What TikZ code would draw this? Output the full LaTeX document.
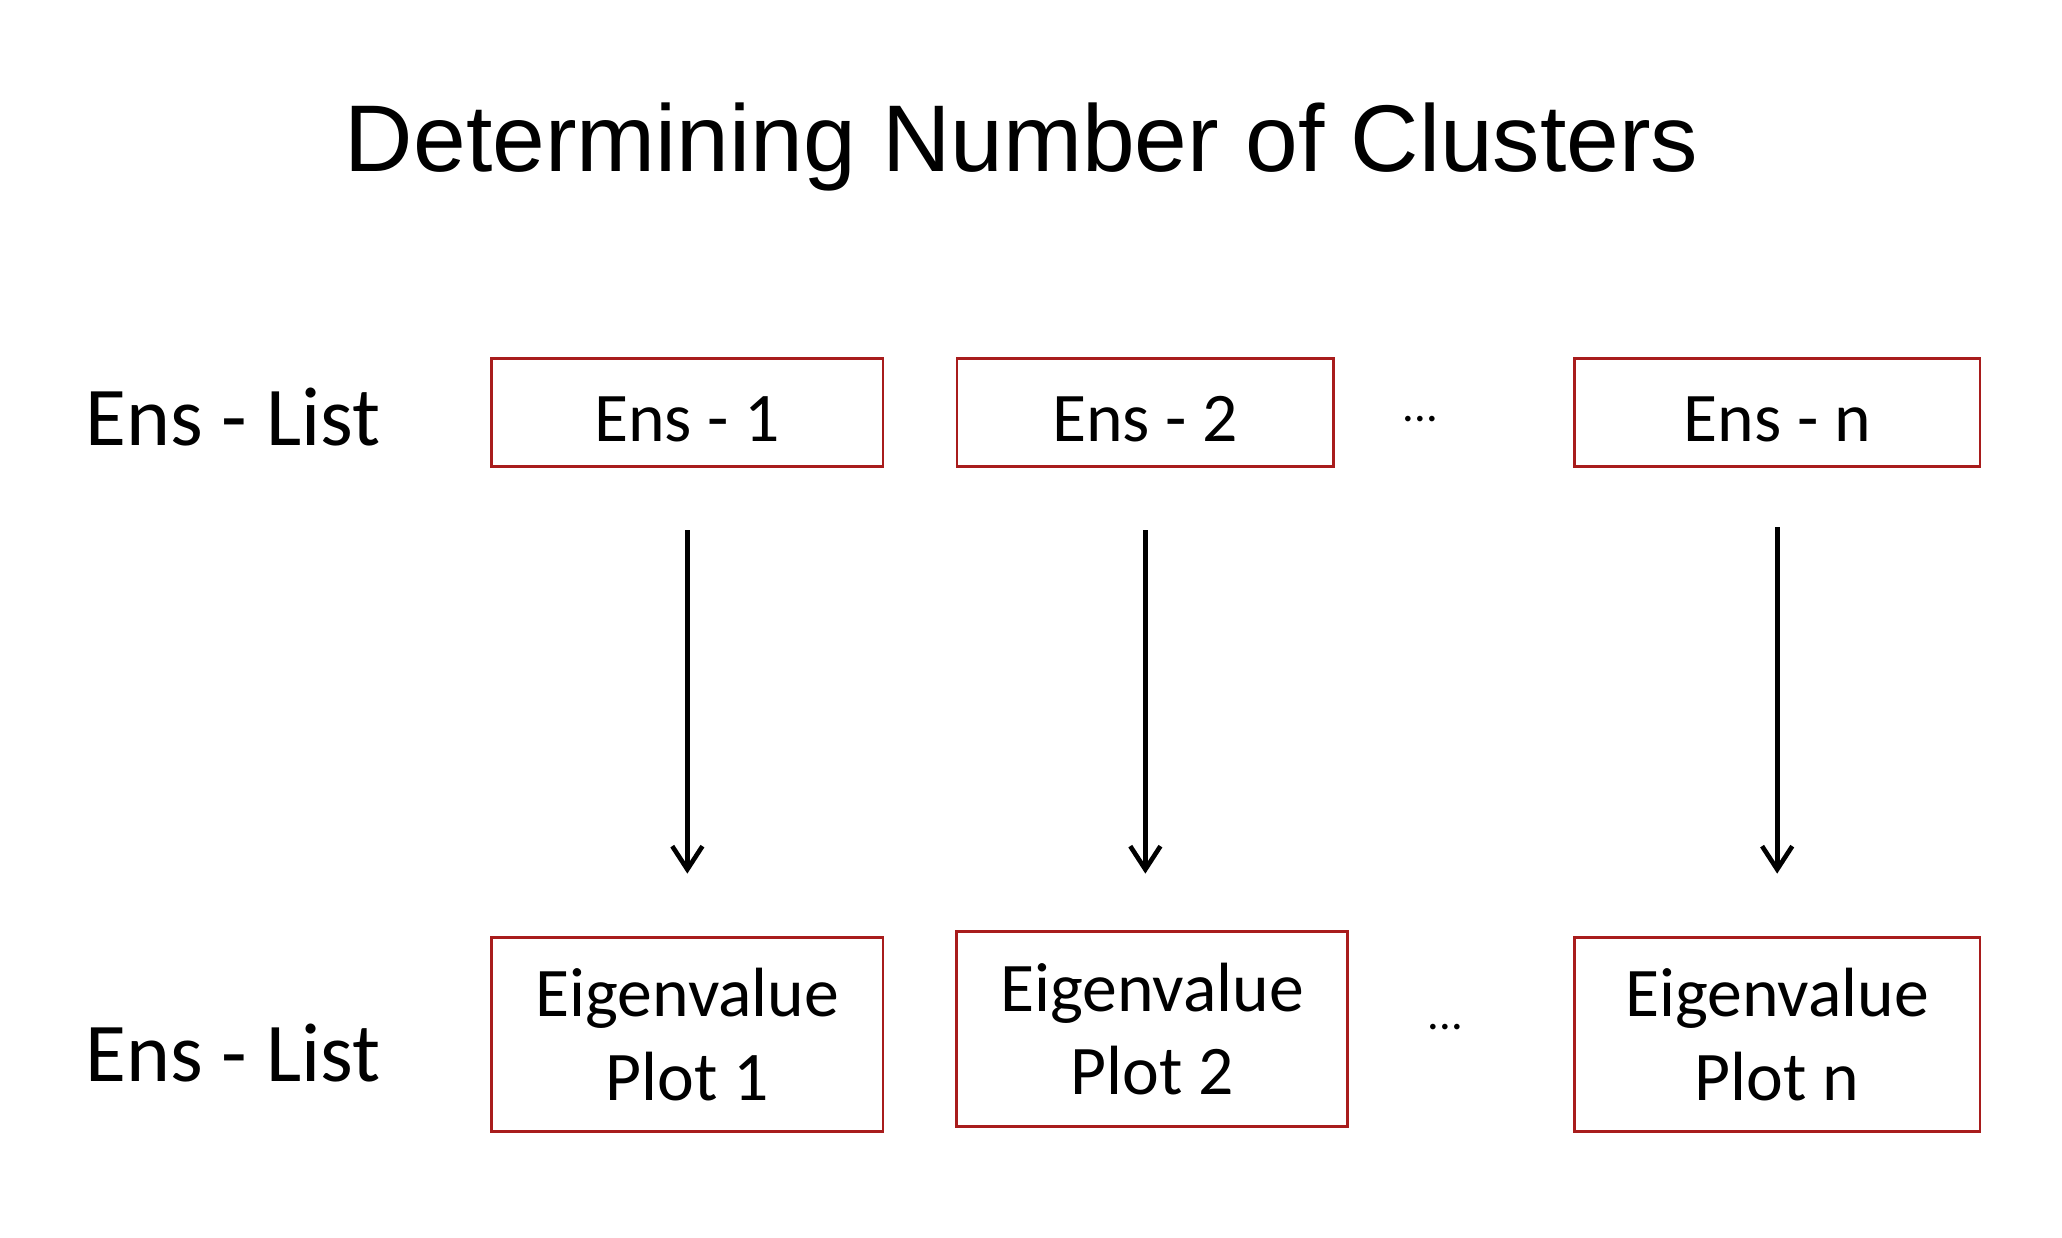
\documentclass[tikz,border=0pt]{standalone}
\usepackage{fontspec}
\setmainfont{Carlito}
\newfontfamily\titlefont{Liberation Sans}
\usetikzlibrary{positioning,arrows.meta}
\definecolor{boxred}{RGB}{168,28,28}
\begin{document}
\begin{tikzpicture}[
  block/.style={rectangle, draw=boxred, line width=0.6pt, minimum width=2.96cm, minimum height=0.82cm, inner sep=0pt, font=\fontsize{15}{18}\selectfont, align=center},
  ensblock/.style={block, text height=0.44cm, text depth=0cm},
  plotblock/.style={block, minimum height=1.47cm},
  rowlabel/.style={anchor=base west, inner sep=0pt, font=\fontsize{18}{22}\selectfont},
  dots/.style={inner sep=0pt, font=\fontsize{10}{12}\selectfont},
  flow/.style={-{Straight Barb[length=5pt,width=6.5pt]}, line width=1pt},
  node distance=2.5cm
]
\useasboundingbox (0,0) rectangle (15.6,-9.366);
\node[anchor=base, inner sep=0pt, font=\titlefont\fontsize{20.4}{24}\selectfont] (title) at (7.73,-1.30) {Determining Number of Clusters};

% Ensemble row
\node[rowlabel] (lab1) at (0.64,-3.37) {Ens - List};
\node[ensblock] (ens1) at (5.20,-3.12) {Ens - 1};
\node[ensblock, right of=ens1, node distance=3.465cm, minimum width=2.85cm] (ens2) {Ens - 2};
\node[ensblock, right of=ens2, node distance=4.78cm, minimum width=3.07cm] (ensn) {Ens - n};
\node[dots, right of=ens2, node distance=2.08cm, yshift=-0.05cm] (dots1) {...};

% Eigenvalue row
\node[rowlabel] (lab2) at (0.64,-8.18) {Ens - List};
\node[plotblock, below of=ens1, node distance=4.705cm] (plot1) {Eigenvalue\\Plot 1};
\node[plotblock, below of=ens2, node distance=4.665cm, xshift=0.05cm] (plot2) {Eigenvalue\\Plot 2};
\node[plotblock, below of=ensn, node distance=4.705cm, minimum width=3.07cm] (plotn) {Eigenvalue\\Plot n};
\node[dots, right of=plot2, node distance=2.22cm, yshift=0.015cm] (dots2) {...};

% Arrows
\draw[flow, shorten <=0.47cm, shorten >=0.47cm] (ens1.south) -- (plot1.north);
\draw[flow, shorten <=0.47cm, shorten >=0.43cm] (ens2.south) -- (ens2.south |- plot2.north);
\draw[flow, shorten <=0.45cm, shorten >=0.47cm] (ensn.south) -- (ensn.south |- plotn.north);
\end{tikzpicture}
\end{document}
